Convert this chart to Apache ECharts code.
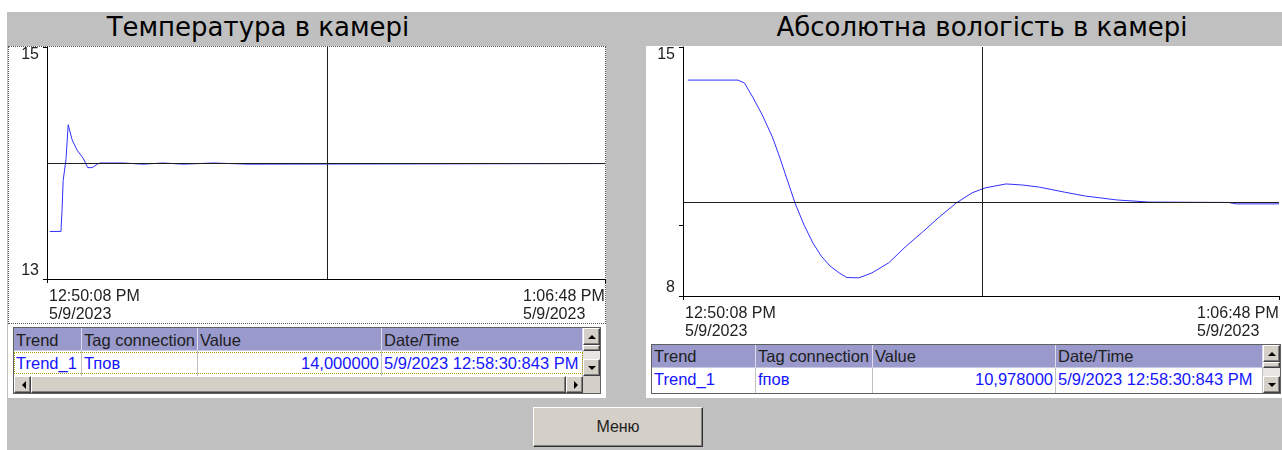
<!DOCTYPE html>
<html>
<head>
<meta charset="utf-8">
<script src="https://cdn.jsdelivr.net/npm/echarts@6/dist/echarts.min.js"></script>
<style>
    body { margin: 0; width: 1282px; height: 450px; overflow: hidden; background: #fff; position: relative;
        font-family: "Liberation Sans", Arial, sans-serif; }
    .abs { position: absolute; }
    #bg { left: 7px; top: 12px; width: 1275px; height: 438px; background: #c0c0c0; }
    .title { top: 10px; width: 420px; height: 34px; line-height: 34px; text-align: center;
        font-family: "DejaVu Sans", sans-serif; font-size: 26px; color: #000; white-space: nowrap; }
    .panel { top: 46px; height: 352px; background: #fff; }
    .focus { border: 1px dotted #555; box-sizing: border-box; }
    .tbl { border: 1px solid #606060; background: #fff; overflow: hidden; }
    .cell { position: absolute; box-sizing: border-box; overflow: hidden; white-space: nowrap;
        font-size: 16.5px; line-height: 23px; padding-left: 2px; }
    .hd { background: #9999cc; color: #202020; border-right: 1px solid #dcdcec; border-bottom: 1px solid #c8c8e0; }
    .dt { background: #fff; color: #1414ff; border-right: 1px solid #c0c0c0; }
    .btn { position: absolute; box-sizing: border-box; background: #d4d0c8;
        border: 1px solid; border-color: #fff #404040 #404040 #fff; box-shadow: inset -1px -1px #808080; }
    .arr { position: absolute; width: 0; height: 0; border: 4px solid transparent; }
    #chart { left: 0; top: 0; width: 1282px; height: 450px; z-index: 5; pointer-events: none; }
    #menu { left: 533px; top: 407px; width: 170px; height: 40px; font-size: 16px; line-height: 38px;
        text-align: center; color: #222; border-color: #fff #303030 #303030 #fff; }
</style>
</head>
<body>
<div id="bg" class="abs"></div>
<div class="abs title" style="left:48px">Температура в камері</div>
<div class="abs title" style="left:772px">Абсолютна вологість в камері</div>
<div class="abs panel" style="left:8px;width:598px"></div>
<div class="abs panel" style="left:646px;width:636px"></div>
<div class="abs focus" style="left:8px;top:46px;width:598px;height:278px"></div>
<div id="menu" class="btn">Меню</div>
<div id="chart" class="abs"></div>
<script>
// time axis in seconds from 12:50:08 PM
var xTickLabels = ['12:50:08 PM\n5/9/2023', '1:06:48 PM\n5/9/2023'];
var xSpan = 1000;
var cursorTime = 502.8;

// Температура в камері
var tempTime = [5, 25, 27, 29, 34, 38, 45, 54, 65, 73, 81, 90, 95, 113, 136, 137, 172, 173, 208, 209, 244, 245, 298, 299, 360, 361, 1000];
var tempValue = [13.41, 13.41, 13.6, 13.85, 14.03, 14.33, 14.2, 14.11, 14.04, 13.96, 13.96, 13.99, 14.0, 14.0, 14.0, 13.99, 13.99, 14.0, 14.0, 13.99, 13.99, 14.0, 14.0, 13.99, 13.99, 13.995, 13.995];
var tempTicks = [13, 15];
var tempRef = 14.0;

// Абсолютна вологість в камері
var humTime = [8, 92, 103, 117, 133, 150, 162, 175, 188, 203, 218, 232, 247, 262, 275, 295, 317, 345, 373, 402, 430, 458, 485, 507, 542, 570, 598, 640, 675, 728, 782, 915, 928, 1000];
var humValue = [14.07, 14.07, 13.99, 13.59, 13.09, 12.47, 11.91, 11.26, 10.61, 10.0, 9.49, 9.12, 8.84, 8.65, 8.52, 8.51, 8.65, 8.93, 9.38, 9.8, 10.22, 10.61, 10.9, 11.04, 11.15, 11.12, 11.06, 10.92, 10.81, 10.7, 10.64, 10.63, 10.59, 10.59];
var humTicks = [8, 15];
var humAxisTicks = [8, 10, 15];
var humRef = 10.63;

// tables
var tableCols = ['Trend', 'Tag connection', 'Value', 'Date/Time'];
var tempRow = ['Trend_1', 'Тпов', '14,000000', '5/9/2023 12:58:30:843 PM'];
var humRow = ['Trend_1', 'fпов', '10,978000', '5/9/2023 12:58:30:843 PM'];

function arrow(dir, l, t) {
    var a = document.createElement('div');
    a.className = 'arr';
    a.style.left = l + 'px';
    a.style.top = t + 'px';
    var side = { up: 'Bottom', down: 'Top', left: 'Right', right: 'Left' }[dir];
    a.style['border' + side + 'Color'] = '#000';
    return a;
}

function button(l, t, w, h, dir) {
    var b = document.createElement('div');
    b.className = 'btn';
    b.style.cssText = 'left:' + l + 'px;top:' + t + 'px;width:' + w + 'px;height:' + h + 'px';
    if (dir) {
        var ax = dir == 'left' || dir == 'right' ? (w - 2) / 2 - (dir == 'left' ? 5 : 1) : (w - 2) / 2 - 4;
        var ay = dir == 'up' || dir == 'down' ? (h - 2) / 2 - (dir == 'up' ? 6 : 2) : (h - 2) / 2 - 4;
        b.appendChild(arrow(dir, ax, ay));
    }
    return b;
}

function buildTable(cfg) {
    var total = cfg.widths.reduce(function(a, b) { return a + b; }, 0);
    var h = cfg.headH + cfg.rowH + (cfg.hscroll ? 17 : 0);
    var t = document.createElement('div');
    t.className = 'abs tbl';
    t.style.cssText = 'left:' + cfg.x + 'px;top:' + cfg.y + 'px;width:' + (total + 17) + 'px;height:' + h + 'px';
    var x = 0;
    for (var i = 0; i < cfg.widths.length; i++) {
        var hc = document.createElement('div');
        hc.className = 'cell hd';
        hc.style.cssText = 'left:' + x + 'px;top:0;width:' + cfg.widths[i] + 'px;height:' + cfg.headH + 'px;padding-top:' + cfg.pad + 'px';
        hc.textContent = tableCols[i];
        t.appendChild(hc);
        var dc = document.createElement('div');
        dc.className = 'cell dt';
        dc.style.cssText = 'left:' + x + 'px;top:' + cfg.headH + 'px;width:' + cfg.widths[i] + 'px;height:' + cfg.rowH + 'px;padding-top:' + cfg.pad + 'px';
        if (i == 2) { dc.style.textAlign = 'right'; dc.style.paddingRight = '2px'; }
        dc.textContent = cfg.row[i];
        t.appendChild(dc);
        x += cfg.widths[i];
    }
    if (cfg.selected) {
        var s = document.createElement('div');
        s.className = 'abs';
        s.style.cssText = 'left:0;top:' + (cfg.headH + 1) + 'px;width:' + total + 'px;height:' + (cfg.rowH - 3) +
            'px;border:1px dotted #a8a000;box-sizing:border-box';
        t.appendChild(s);
    }
    // vertical scrollbar
    var vh = cfg.headH + cfg.rowH;
    var track = document.createElement('div');
    track.className = 'abs';
    track.style.cssText = 'left:' + total + 'px;top:0;width:17px;height:' + vh + 'px;background:#e8e6e2';
    t.appendChild(track);
    t.appendChild(button(total, 0, 17, 17, 'up'));
    t.appendChild(button(total, 17, 17, 6));
    t.appendChild(button(total, vh - 17, 17, 17, 'down'));
    if (cfg.hscroll) {
        t.appendChild(button(0, vh, 17, 17, 'left'));
        t.appendChild(button(17, vh, total - 34, 17));
        t.appendChild(button(total - 17, vh, 17, 17, 'right'));
        var corner = document.createElement('div');
        corner.className = 'abs';
        corner.style.cssText = 'left:' + total + 'px;top:' + vh + 'px;width:17px;height:17px;background:#d4d0c8';
        t.appendChild(corner);
    }
    document.body.appendChild(t);
}

buildTable({ x: 13, y: 327, widths: [68, 116, 184, 201], headH: 23, rowH: 25, pad: 1, hscroll: true, selected: true, row: tempRow });
buildTable({ x: 651, y: 344, widths: [104, 117, 183, 207], headH: 23, rowH: 25, pad: 0, hscroll: false, selected: false, row: humRow });

function pairs(xs, ys) {
    return xs.map(function(v, i) { return [v, ys[i]]; });
}

var labelFont = { fontFamily: 'Liberation Sans', fontSize: 16, color: '#222' };

function xAxisCfg(idx) {
    return {
        gridIndex: idx, type: 'value', min: 0, max: xSpan, interval: xSpan,
        axisLine: { lineStyle: { color: '#000', width: 1 } },
        axisTick: { show: true, length: 4, lineStyle: { color: '#000' } },
        splitLine: { show: false },
        axisLabel: {
            margin: 9, alignMinLabel: 'left', alignMaxLabel: 'right',
            formatter: function(v) {
                var parts = xTickLabels[v == 0 ? 0 : 1].split('\n');
                var s = v == 0 ? 'l' : 'r';
                return '{' + s + '|' + parts[0] + '}\n{' + s + '|' + parts[1] + '}';
            },
            rich: {
                l: Object.assign({ width: 92, align: 'left', lineHeight: 18, padding: [0, 0, 0, 2] }, labelFont),
                r: Object.assign({ width: 82, align: 'left', lineHeight: 18 }, labelFont)
            }
        }
    };
}

function yAxisCfg(idx, min, max, labels, ticks) {
    return {
        gridIndex: idx, type: 'value', min: min, max: max,
        axisLine: { show: true, lineStyle: { color: '#000', width: 1 } },
        axisTick: { show: true, length: 4, customValues: ticks, lineStyle: { color: '#000' } },
        splitLine: { show: false },
        axisLabel: Object.assign({ margin: 8, customValues: labels,
            verticalAlignMinLabel: 'bottom', verticalAlignMaxLabel: 'top' }, labelFont)
    };
}

function seriesCfg(idx, data, ref) {
    return {
        type: 'line', xAxisIndex: idx, yAxisIndex: idx, data: data,
        showSymbol: false, symbol: 'none',
        lineStyle: { color: '#3030ff', width: 1 },
        markLine: {
            silent: true, symbol: ['none', 'none'], label: { show: false },
            lineStyle: { color: '#202020', width: 1, type: 'solid' },
            data: [{ xAxis: cursorTime }, { yAxis: ref }]
        }
    };
}

var chart = echarts.init(document.getElementById('chart'), null, { renderer: 'canvas' });
chart.setOption({
    animation: false,
    grid: [
        { left: 47, top: 47, width: 558, height: 232 },
        { left: 683, top: 47, width: 600, height: 249 }
    ],
    xAxis: [xAxisCfg(0), xAxisCfg(1)],
    yAxis: [yAxisCfg(0, 13, 15, tempTicks, tempTicks), yAxisCfg(1, 8, 15, humTicks, humAxisTicks)],
    series: [seriesCfg(0, pairs(tempTime, tempValue), tempRef), seriesCfg(1, pairs(humTime, humValue), humRef)]
});
</script>
</body>
</html>
